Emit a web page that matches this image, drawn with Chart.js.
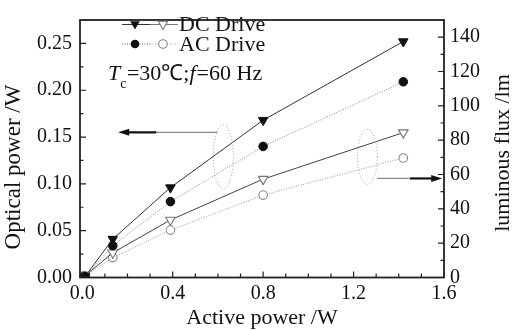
<!DOCTYPE html>
<html><head><meta charset="utf-8">
<script src="https://cdn.jsdelivr.net/npm/chart.js@4/dist/chart.umd.min.js"></script>
<style>html,body{margin:0;padding:0;background:#fff}#wrap{width:513px;height:331px}</style>
</head><body><div id="wrap"><canvas id="c" width="513" height="331"></canvas></div>
<script>
const activePower = [0.012, 0.135, 0.39, 0.80, 1.42];
const dcOptical = [0.001, 0.041, 0.096, 0.168, 0.252];
const acOptical = [0.001, 0.034, 0.081, 0.140, 0.209];
const dcFlux = [1, 14.4, 33.5, 57.3, 84.4];
const acFlux = [1, 11.6, 27.6, 48, 69.6];
const xTicks = [0, 0.4, 0.8, 1.2, 1.6];
const yLeftTicks = [0, 0.05, 0.10, 0.15, 0.20, 0.25];
const yRightTicks = [0, 20, 40, 60, 80, 100, 120, 140];

const FONT = "'Liberation Serif', 'Times New Roman', serif";
Chart.defaults.font.family = FONT;
Chart.defaults.color = '#111';

function pts(ys){ return activePower.map((x,i)=>({x:x,y:ys[i]})); }

const decor = {
  id:'decor',
  afterDraw(chart){
    const ctx = chart.ctx, a = chart.chartArea;
    const X = chart.scales.x, YL = chart.scales.y, YR = chart.scales.y1;
    ctx.save();
    // frame
    ctx.strokeStyle = '#222'; ctx.lineWidth = 1.8;
    ctx.strokeRect(a.left, a.top, a.right-a.left, a.bottom-a.top);
    ctx.lineWidth = 1.2;
    ctx.beginPath();
    for (let v=0; v<=1.6001; v+=0.1){
      const px = X.getPixelForValue(v);
      const major = Math.abs(v/0.4 - Math.round(v/0.4))<1e-6;
      ctx.moveTo(px, a.bottom); ctx.lineTo(px, a.bottom-(major?6:4));
    }
    for (let v=0; v<=0.2501; v+=0.025){
      const py = YL.getPixelForValue(v);
      const major = Math.abs(v/0.05 - Math.round(v/0.05))<1e-6;
      ctx.moveTo(a.left, py); ctx.lineTo(a.left+(major?6:3.5), py);
    }
    for (let v=0; v<=150; v+=10){
      const py = YR.getPixelForValue(v);
      const major = v%20===0;
      ctx.moveTo(a.right, py); ctx.lineTo(a.right-(major?6:3.5), py);
    }
    ctx.stroke();

    // ellipses
    ctx.setLineDash([1,2]); ctx.strokeStyle='#999'; ctx.lineWidth=1;
    ctx.beginPath();
    ctx.ellipse(X.getPixelForValue(0.624), YL.getPixelForValue(0.129), 10, 32, 0, 0, Math.PI*2);
    ctx.stroke();
    ctx.beginPath();
    ctx.ellipse(X.getPixelForValue(1.261), YR.getPixelForValue(70.3), 10, 27.5, 0, 0, Math.PI*2);
    ctx.stroke();
    ctx.setLineDash([]);

    // left arrow
    let ay = YL.getPixelForValue(0.155);
    let x1 = X.getPixelForValue(0.597), x2 = X.getPixelForValue(0.327), x3 = X.getPixelForValue(0.159);
    ctx.strokeStyle='#888'; ctx.lineWidth=1.2;
    ctx.beginPath(); ctx.moveTo(x1, ay); ctx.lineTo(x2, ay); ctx.stroke();
    ctx.strokeStyle='#111'; ctx.lineWidth=2.2;
    ctx.beginPath(); ctx.moveTo(x2, ay); ctx.lineTo(x3+8, ay); ctx.stroke();
    ctx.fillStyle='#111';
    ctx.beginPath(); ctx.moveTo(x3, ay); ctx.lineTo(x3+11, ay-3.5); ctx.lineTo(x3+11, ay+3.5); ctx.closePath(); ctx.fill();

    // right arrow
    ay = YR.getPixelForValue(57.7);
    x1 = X.getPixelForValue(1.305); x2 = X.getPixelForValue(1.45); x3 = X.getPixelForValue(1.592);
    ctx.strokeStyle='#888'; ctx.lineWidth=1.2;
    ctx.beginPath(); ctx.moveTo(x1, ay); ctx.lineTo(x2, ay); ctx.stroke();
    ctx.strokeStyle='#111'; ctx.lineWidth=2.2;
    ctx.beginPath(); ctx.moveTo(x2, ay); ctx.lineTo(x3-8, ay); ctx.stroke();
    ctx.beginPath(); ctx.moveTo(x3, ay); ctx.lineTo(x3-11, ay-3.5); ctx.lineTo(x3-11, ay+3.5); ctx.closePath(); ctx.fill();

    // legend
    function tri(x,y,r,fill){
      ctx.beginPath();
      ctx.moveTo(x-r*0.87, y-r*0.5); ctx.lineTo(x+r*0.87, y-r*0.5); ctx.lineTo(x, y+r); ctx.closePath();
      if(fill){ctx.fillStyle='#111';ctx.fill();} else {ctx.fillStyle='#fff';ctx.fill();ctx.strokeStyle='#777';ctx.lineWidth=1.1;ctx.stroke();}
    }
    function circ(x,y,r,fill){
      ctx.beginPath(); ctx.arc(x,y,r,0,Math.PI*2);
      if(fill){ctx.fillStyle='#111';ctx.fill();} else {ctx.fillStyle='#fff';ctx.fill();ctx.strokeStyle='#888';ctx.lineWidth=1.1;ctx.stroke();}
    }
    let ly = 24.5;
    ctx.lineWidth=1; ctx.strokeStyle='#333';
    ctx.beginPath(); ctx.moveTo(122,ly); ctx.lineTo(150,ly); ctx.stroke();
    ctx.strokeStyle='#777';
    ctx.beginPath(); ctx.moveTo(150,ly); ctx.lineTo(178,ly); ctx.stroke();
    tri(135, ly-0.5, 5.5, true); tri(163, ly-0.5, 5.5, false);
    ly = 44;
    ctx.setLineDash([1,1.5]); ctx.strokeStyle='#666';
    ctx.beginPath(); ctx.moveTo(122,ly); ctx.lineTo(150,ly); ctx.stroke();
    ctx.strokeStyle='#aaa';
    ctx.beginPath(); ctx.moveTo(150,ly); ctx.lineTo(178,ly); ctx.stroke();
    ctx.setLineDash([]);
    circ(135, ly, 4.3, true); circ(163, ly, 4.3, false);
    ctx.fillStyle='#111'; ctx.font = '22px '+FONT; ctx.textBaseline='alphabetic'; ctx.textAlign='left';
    ctx.fillText('DC Drive', 179, 30.5);
    ctx.fillText('AC Drive', 179, 50.5);

    // annotation
    let tx = 108; const bl = 79.5;
    ctx.font = 'italic 22px '+FONT; ctx.fillText('T', tx, bl); tx += ctx.measureText('T').width;
    ctx.font = '14px '+FONT; ctx.fillText('c', tx, bl+8); tx += ctx.measureText('c').width + 0.5;
    ctx.font = '22px '+FONT; ctx.fillText('=30\u2103;', tx, bl); tx += ctx.measureText('=30\u2103;').width;
    ctx.font = 'italic 22px '+FONT; ctx.fillText('f', tx, bl); tx += ctx.measureText('f').width+1;
    ctx.font = '22px '+FONT; ctx.fillText('=60 Hz', tx, bl);

    // axis titles
    ctx.font = '22px '+FONT; ctx.textAlign='center'; ctx.textBaseline='middle';
    ctx.fillText('Active power /W', 262, 318);
    ctx.save(); ctx.translate(14, 167); ctx.rotate(-Math.PI/2); ctx.font = '23px '+FONT; ctx.fillText('Optical power /W', 0, 0); ctx.restore();
    ctx.save(); ctx.translate(503, 153); ctx.rotate(-Math.PI/2); ctx.fillText('luminous flux /lm', 0, 0); ctx.restore();
    ctx.restore();
  }
};

new Chart(document.getElementById('c'), {
  type:'scatter',
  data:{ datasets:[
    { label:'DC Drive optical', data:pts(dcOptical), yAxisID:'y', showLine:true,
      borderColor:'#333', borderWidth:1, pointStyle:'triangle', rotation:180, pointRadius:5.5,
      pointBackgroundColor:'#111', pointBorderColor:'#111', pointBorderWidth:1 },
    { label:'AC Drive optical', data:pts(acOptical), yAxisID:'y', showLine:true,
      borderColor:'#888', borderWidth:1, borderDash:[1,1.5], pointStyle:'circle', pointRadius:4.3,
      pointBackgroundColor:'#111', pointBorderColor:'#111', pointBorderWidth:1 },
    { label:'DC Drive flux', data:pts(dcFlux), yAxisID:'y1', showLine:true,
      borderColor:'#444', borderWidth:1, pointStyle:'triangle', rotation:180, pointRadius:5.5,
      pointBackgroundColor:'#fff', pointBorderColor:'#777', pointBorderWidth:1.1 },
    { label:'AC Drive flux', data:pts(acFlux), yAxisID:'y1', showLine:true,
      borderColor:'#999', borderWidth:1, borderDash:[1,1.5], pointStyle:'circle', pointRadius:4.3,
      pointBackgroundColor:'#fff', pointBorderColor:'#888', pointBorderWidth:1.1 }
  ]},
  options:{
    responsive:false, animation:false, maintainAspectRatio:false,
    layout:{ padding:{ left:0, right:0, top:6, bottom:0 } },
    plugins:{ legend:{display:false}, tooltip:{enabled:false} },
    scales:{
      x:{ type:'linear', position:'bottom', min:-0.01, max:1.6,
        afterBuildTicks(s){ s.ticks = xTicks.map(v=>({value:v})); },
        afterFit(s){ s.height = 53.5; },
        grid:{display:false, drawTicks:false}, border:{display:false},
        ticks:{ padding:4, font:{size:20}, color:'#111', maxRotation:0, callback:v=>v.toFixed(1) } },
      y:{ type:'linear', position:'left', min:0, max:0.275,
        afterBuildTicks(s){ s.ticks = yLeftTicks.map(v=>({value:v})); },
        afterFit(s){ s.width = 80; },
        grid:{display:false, drawTicks:false}, border:{display:false},
        ticks:{ padding:8, font:{size:20}, color:'#111', callback:v=>v.toFixed(2) } },
      y1:{ type:'linear', position:'right', min:0, max:150,
        afterBuildTicks(s){ s.ticks = yRightTicks.map(v=>({value:v})); },
        afterFit(s){ s.width = 69; },
        grid:{display:false, drawTicks:false}, border:{display:false},
        ticks:{ padding:6, font:{size:20}, color:'#111', callback:v=>String(v) } }
    }
  },
  plugins:[decor]
});
</script></body></html>
